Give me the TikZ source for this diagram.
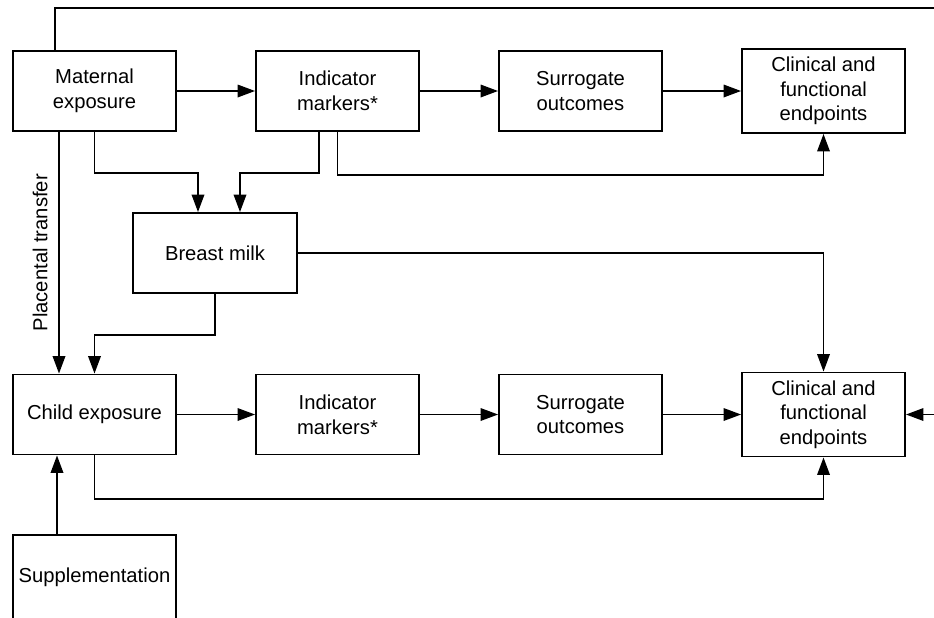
\documentclass[tikz,border=0pt]{standalone}
\usepackage{fontspec}
\setmainfont{Liberation Sans}
\usetikzlibrary{calc,arrows.meta}

\begin{document}
\begin{tikzpicture}[node distance=4.86cm, line width=1.05pt, >={Triangle[length=3.5mm,width=2.5mm]},
    block/.style={shape=rectangle, draw, align=center, minimum width=3.26cm, minimum height=1.6cm, inner sep=1pt, font=\fontsize{11.5}{14}\selectfont}]
    \useasboundingbox (0,0) rectangle (18.68,-12.34);
    \clip (0,0) rectangle (18.68,-12.34);
    \node[block] at (1.89,-1.82) (mat) {Maternal\\ exposure};
    \node[block, right of=mat] (ind1) {Indicator\\ markers*};
    \node[block, right of=ind1] (sur1) {Surrogate\\ outcomes};
    \node[block, right of=sur1, minimum height=1.68cm] (clin1) {Clinical and\\ functional\\ endpoints};
    \node[block, minimum width=3.28cm] at (4.3,-5.06) (milk) {Breast milk};
    \node[block] at (1.89,-8.29) (child) {Child exposure};
    \node[block, right of=child] (ind2) {Indicator\\ markers*};
    \node[block, right of=ind2] (sur2) {Surrogate\\ outcomes};
    \node[block, right of=sur2, minimum height=1.68cm] (clin2) {Clinical and\\ functional\\ endpoints};
    \node[block, minimum height=1.7cm] at (1.89,-11.55) (supp) {Supplementation};
    \coordinate (loop) at (19.2,-0.16);
    % maternal row
    \draw[->] (mat) -- (ind1);
    \draw[->] (ind1) -- (sur1);
    \draw[->] (sur1) -- (clin1);
    \draw[->] (ind1.south) -- ++(0,-0.86) -| (clin1.south);
    \draw[->] ($(ind1.south)+(-0.37,0)$) -- ++(0,-0.82) -| ($(milk.north)+(0.5,0)$);
    \draw[->] (mat.south) -- ++(0,-0.82) -| ($(milk.north)+(-0.34,0)$);
    \draw[->] ($(mat.north)+(-0.79,0)$) |- (loop) |- (clin2.east);
    % breast milk and placenta
    \draw[->] ($(mat.south)+(-0.71,0)$) -- node[rotate=90, anchor=south, inner sep=6pt, font=\fontsize{11.5}{14}\selectfont] {Placental transfer} ($(child.north)+(-0.71,0)$);
    \draw[->] (milk.south) -- ++(0,-0.82) -| (child.north);
    \draw[->] (milk) -| (clin2.north);
    % child row
    \draw[->] (child) -- (ind2);
    \draw[->] (ind2) -- (sur2);
    \draw[->] (sur2) -- (clin2);
    \draw[->] (child.south) -- ++(0,-0.87) -| (clin2.south);
    \draw[->] ($(supp.north)+(-0.75,0)$) -- ($(child.south)+(-0.75,0)$);
\end{tikzpicture}
\end{document}
